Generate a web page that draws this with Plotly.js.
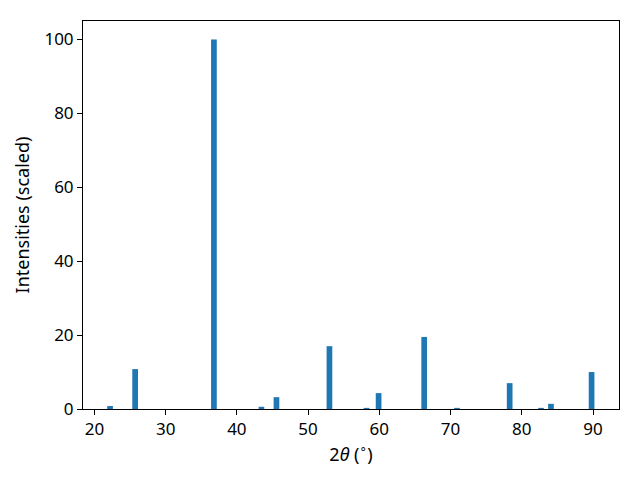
<!DOCTYPE html>
<html>
<head>
<meta charset="utf-8">
<script src="https://cdn.plot.ly/plotly-3.0.1.min.js"></script>
<style>body{margin:0;padding:0;background:#fff}#chart{width:640px;height:480px}</style>
</head>
<body>
<div id="chart"></div>
<script>
const twoTheta = [22.2, 25.72, 36.78, 43.45, 45.56, 53.0, 58.2, 59.9, 66.3, 70.9, 78.3, 82.7, 84.1, 89.8];
const intensity = [0.8, 10.8, 100, 0.6, 3.2, 17.0, 0.3, 4.3, 19.5, 0.3, 7.0, 0.3, 1.4, 10.0];
const xTicks = [20, 30, 40, 50, 60, 70, 80, 90];
const yTicks = [0, 20, 40, 60, 80, 100];

const trace = {
  type: 'bar',
  x: twoTheta,
  y: intensity,
  width: 0.8,
  marker: {color: '#1f77b4', line: {width: 0}},
  hoverinfo: 'x+y'
};

const FONT = 'Noto Sans, DejaVu Sans, sans-serif';

const axisCommon = {
  showgrid: false,
  zeroline: false,
  showline: true,
  linecolor: '#000',
  linewidth: 1,
  mirror: true,
  ticks: 'outside',
  ticklen: 5,
  tickwidth: 1,
  tickcolor: '#000',
  tickfont: {family: FONT, size: 17, color: '#000'}
};

const layout = {
  width: 640,
  height: 480,
  margin: {l: 83, r: 21, t: 21, b: 71},
  paper_bgcolor: '#fff',
  plot_bgcolor: '#fff',
  showlegend: false,
  font: {family: FONT, size: 17, color: '#000'},
  xaxis: Object.assign({}, axisCommon, {
    range: [18.4, 93.65],
    tickvals: xTicks,
    ticktext: xTicks.map(String),
    title: {text: '2<i>θ</i> (<sup>∘</sup>)', font: {family: FONT, size: 18, color: '#000'}, standoff: 6}
  }),
  yaxis: Object.assign({}, axisCommon, {
    range: [0, 105],
    tickvals: yTicks,
    ticktext: yTicks.map(String),
    title: {text: 'Intensities (scaled)', font: {family: FONT, size: 18, color: '#000'}, standoff: 10}
  })
};

Plotly.newPlot('chart', [trace], layout, {displayModeBar: false, staticPlot: true});
</script>
</body>
</html>
